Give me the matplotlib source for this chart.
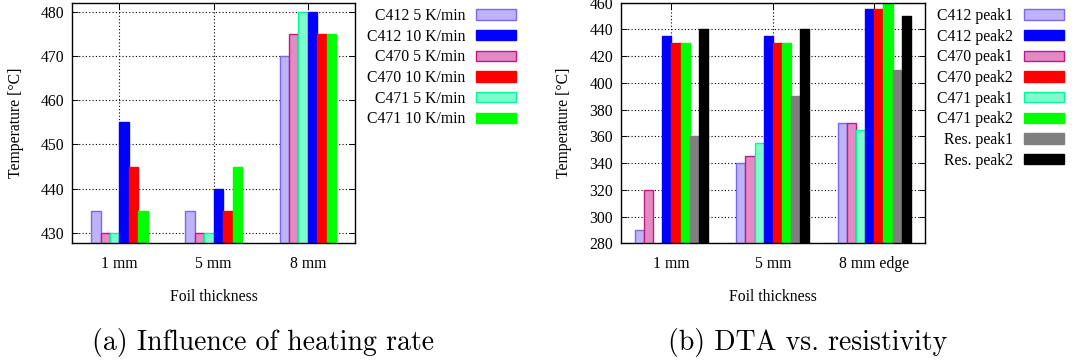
import numpy as np
import matplotlib
matplotlib.use('Agg')
import matplotlib.pyplot as plt
from matplotlib.patches import Patch

plt.rcParams['font.family'] = 'Liberation Serif'
plt.rcParams['font.size'] = 11.3

# (a) heating rate
groups_a = ['1 mm', '5 mm', '8 mm']
c412_5 = [435, 435, 470]
c412_10 = [455, 440, 480]
c470_5 = [430, 430, 475]
c470_10 = [445, 435, 475]
c471_5 = [430, 430, 480]
c471_10 = [435, 445, 475]

# (b) DTA vs resistivity
groups_b = ['1 mm', '5 mm', '8 mm edge']
c412_p1 = [290, 340, 370]
c412_p2 = [435, 435, 455]
c470_p1 = [320, 345, 370]
c470_p2 = [430, 430, 455]
c471_p1 = [np.nan, 355, 365]
c471_p2 = [430, 430, 460]
res_p1 = [360, 390, 410]
res_p2 = [440, 440, 450]

# fill, edge
lav = ('#bdb3f6', '#7b68ee')
pink = ('#e38ac2', '#c71585')
aqua = ('#80fccc', '#00fa9a')
blue = ('#0000ff', '#0000ff')
red = ('#ff0000', '#ff0000')
green = ('#00ff00', '#00ff00')
grey = ('#7f7f7f', '#7f7f7f')
black = ('#000000', '#000000')


def style_axes(ax, groups):
    ax.set_xlim(-0.5, 2.5)
    ax.set_xticks(range(len(groups)))
    ax.set_xticklabels(groups)
    ax.set_axisbelow(True)
    ax.grid(True, color='black', linestyle=(0, (1, 2)), linewidth=0.8)
    ax.tick_params(direction='in', top=True, right=True, length=4.5, width=0.7)
    ax.tick_params(axis='x', pad=9.5)
    ax.tick_params(axis='y', pad=5.5)
    for s in ax.spines.values():
        s.set_linewidth(1.0)
    ax.set_xlabel('Foil thickness', va='center')
    ax.set_ylabel('Temperature [°C]', va='center')


def draw(ax, series, width):
    n = len(series)
    x = np.arange(3)
    for i, (vals, col) in enumerate(series):
        off = (i - (n - 1) / 2) * width
        ax.bar(x + off, vals, width, facecolor=col[0], edgecolor=col[1], linewidth=1.0)


fig = plt.figure(figsize=(10.78, 3.64), dpi=100)
ax1 = fig.add_axes([0.0671, 0.3316, 0.2622, 0.661])
ax2 = fig.add_axes([0.5758, 0.3316, 0.2823, 0.661])

draw(ax1, [(c412_5, lav), (c470_5, pink), (c471_5, aqua),
           (c412_10, blue), (c470_10, red), (c471_10, green)], 0.1)
ax1.set_ylim(427.7, 482)
ax1.set_yticks([430, 440, 450, 460, 470, 480])
style_axes(ax1, groups_a)
ax1.yaxis.set_label_coords(-0.2006, 0.5)
ax1.xaxis.set_label_coords(0.5, -0.222)

draw(ax2, [(c412_p1, lav), (c470_p1, pink), (c471_p1, aqua), (c412_p2, blue),
           (c470_p2, red), (c471_p2, green), (res_p1, grey), (res_p2, black)], 0.09)
ax2.set_ylim(280, 460)
ax2.set_yticks(range(280, 461, 20))
style_axes(ax2, groups_b)
ax2.yaxis.set_label_coords(-0.186, 0.5)
ax2.xaxis.set_label_coords(0.5, -0.222)

leg_a = [('C412 5 K/min', lav), ('C412 10 K/min', blue), ('C470 5 K/min', pink),
         ('C470 10 K/min', red), ('C471 5 K/min', aqua), ('C471 10 K/min', green)]
leg_b = [('C412 peak1', lav), ('C412 peak2', blue), ('C470 peak1', pink),
         ('C470 peak2', red), ('C471 peak1', aqua), ('C471 peak2', green),
         ('Res. peak1', grey), ('Res. peak2', black)]

for labels, xr in [(leg_a, 0.4861), (leg_b, 0.9944)]:
    handles = [Patch(facecolor=c[0], edgecolor=c[1], linewidth=1.0, label=l) for l, c in labels]
    fig.legend(handles=handles, loc='upper right', bbox_to_anchor=(xr, 1.0),
               frameon=False, markerfirst=False, borderpad=0, handlelength=2.55,
               handleheight=0.64, handletextpad=0.7, labelspacing=0.3, fontsize=11.3)

fig.text(0.0853, 0.0385, '(a) Influence of heating rate', family='cmr10', fontsize=20, va='baseline')
fig.text(0.6197, 0.0385, '(b) DTA vs. resistivity', family='cmr10', fontsize=20, va='baseline')

fig.savefig('out.png', dpi=100)
